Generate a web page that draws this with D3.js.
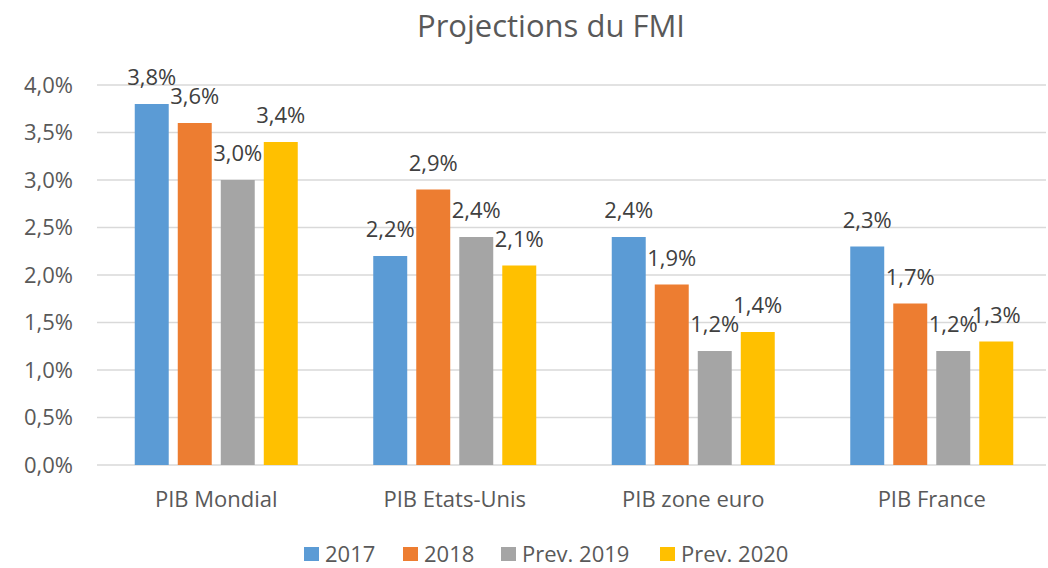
<!DOCTYPE html>
<html lang="fr">
<head>
<meta charset="utf-8">
<title>Projections du FMI</title>
<script src="https://cdn.jsdelivr.net/npm/d3@7"></script>
<style>
  body { margin: 0; background: #fff; }
  text { font-family: "Open Sans", sans-serif; fill: #595959; }
</style>
</head>
<body>
<script>
// Data
var categories = ["PIB Mondial", "PIB Etats-Unis", "PIB zone euro", "PIB France"];
var seriesNames = ["2017", "2018", "Prev. 2019", "Prev. 2020"];
var values = [
  [3.8, 2.2, 2.4, 2.3],   // 2017
  [3.6, 2.9, 1.9, 1.7],   // 2018
  [3.0, 2.4, 1.2, 1.2],   // Prev. 2019
  [3.4, 2.1, 1.4, 1.3]    // Prev. 2020
];
var yTicks = [0, 0.5, 1, 1.5, 2, 2.5, 3, 3.5, 4];
var colors = ["#5B9BD5", "#ED7D31", "#A5A5A5", "#FFC000"];

var w = 1048, h = 568;
var fmt = function(v) { return d3.format(".1f")(v).replace(".", ",") + "%"; };

var svg = d3.select("body").append("svg")
  .attr("width", w)
  .attr("height", h);

// Scales
var x0 = d3.scaleBand()
  .domain(categories)
  .range([97, 1051])
  .paddingInner(0)
  .paddingOuter(0);

var x1 = d3.scaleBand()
  .domain(seriesNames)
  .range([37.75, x0.bandwidth() - 37.75])
  .paddingInner(0.21);

var y = d3.scaleLinear()
  .domain([0, 4])
  .range([465, 85]);

// Title
svg.append("text")
  .attr("x", 551)
  .attr("y", 37)
  .attr("text-anchor", "middle")
  .style("font-size", "31px")
  .text("Projections du FMI");

// Gridlines
svg.append("g")
  .selectAll("line")
  .data(yTicks)
  .enter()
  .append("line")
  .attr("x1", 97)
  .attr("x2", 1046)
  .attr("y1", function(d) { return y(d); })
  .attr("y2", function(d) { return y(d); })
  .attr("stroke", "#D9D9D9")
  .attr("stroke-width", 1.5);

// Y axis
var yAxis = d3.axisLeft(y)
  .tickValues(yTicks)
  .tickSize(0)
  .tickPadding(0)
  .tickFormat(fmt);

svg.append("g")
  .attr("class", "y axis")
  .attr("transform", "translate(73,0)")
  .call(yAxis)
  .call(function(g) { g.select(".domain").remove(); })
  .selectAll("text")
  .style("font-size", "22px")
  .attr("fill", "#595959");

// X axis
var xAxis = d3.axisBottom(x0).tickSize(0).tickPadding(0);
svg.append("g")
  .attr("class", "x axis")
  .attr("transform", "translate(0,491)")
  .call(xAxis)
  .call(function(g) { g.select(".domain").remove(); })
  .selectAll("text")
  .style("font-size", "22px")
  .attr("fill", "#595959");

// Bars
var rows = [];
categories.forEach(function(c, ci) {
  seriesNames.forEach(function(s, si) {
    rows.push({ cat: c, series: s, si: si, value: values[si][ci] });
  });
});

svg.append("g")
  .attr("id", "bars")
  .selectAll("rect")
  .data(rows)
  .enter()
  .append("rect")
  .attr("x", function(d) { return x0(d.cat) + x1(d.series); })
  .attr("y", function(d) { return y(d.value); })
  .attr("width", x1.bandwidth())
  .attr("height", function(d) { return y(0) - y(d.value); })
  .attr("fill", function(d) { return colors[d.si]; });

// Data labels
svg.append("g")
  .selectAll("text")
  .data(rows)
  .enter()
  .append("text")
  .attr("x", function(d) { return x0(d.cat) + x1(d.series) + x1.bandwidth() / 2; })
  .attr("y", function(d) { return y(d.value) - 19; })
  .attr("text-anchor", "middle")
  .style("font-size", "22px")
  .style("fill", "#404040")
  .text(function(d) { return fmt(d.value); });

// Legend
var legendX = [304, 403, 501, 660];
var legend = svg.append("g")
  .selectAll("g")
  .data(seriesNames)
  .enter()
  .append("g")
  .attr("transform", function(d, i) { return "translate(" + legendX[i] + ",547)"; });

legend.append("rect")
  .attr("width", 15)
  .attr("height", 14)
  .attr("fill", function(d, i) { return colors[i]; });

legend.append("text")
  .attr("x", 21)
  .attr("y", 15)
  .style("font-size", "22px")
  .text(function(d) { return d; });
</script>
</body>
</html>
